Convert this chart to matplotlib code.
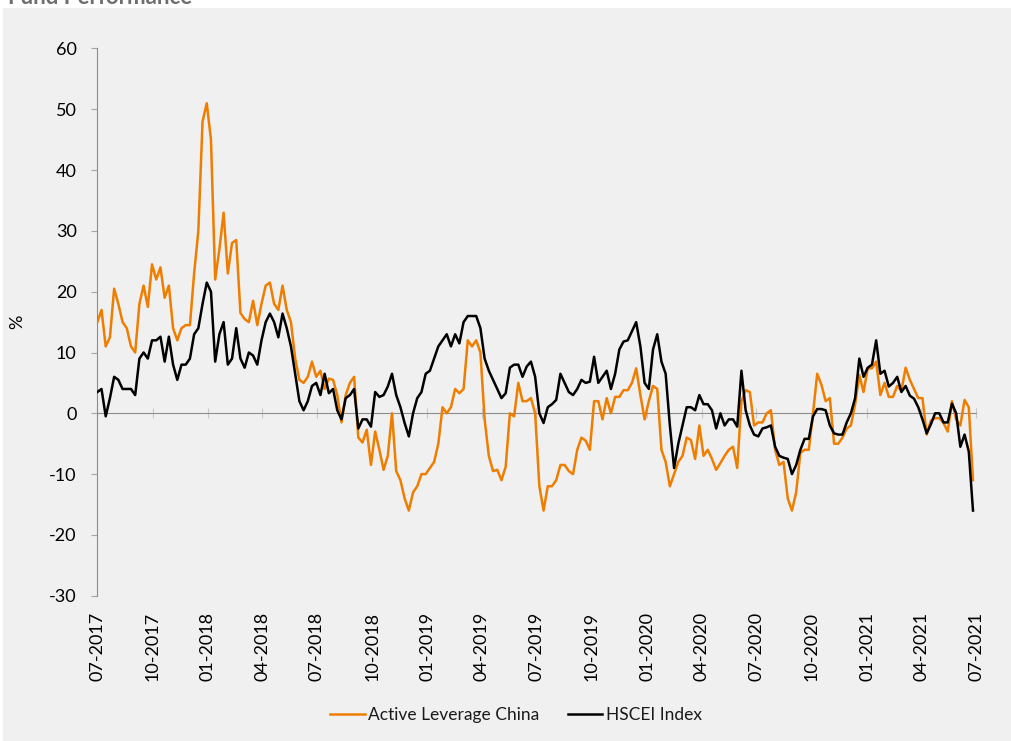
import numpy as np
import pandas as pd
import matplotlib
matplotlib.use("Agg")
import matplotlib.pyplot as plt
from matplotlib.patches import Rectangle

plt.rcParams['font.family'] = ['Lato', 'DejaVu Sans']
plt.rcParams['axes.unicode_minus'] = False

# weekly cumulative performance, %
start = "2017-07-01"

alc_2017 = [15, 17, 11, 12.5, 20.5, 18, 15, 14, 11, 10, 18, 21, 17.5, 24.5, 22, 24, 19, 21,
            14, 12, 14, 14.5, 14.5, 23, 30, 48, 51, 45, 22, 27, 33, 23, 28, 28.5, 16.5, 15.5,
            15, 18.5, 14.5, 18, 21, 21.5, 18, 17, 21, 17, 15, 9, 5.5, 5, 6, 8.5, 6]
alc_2018 = [7, 4, 5.7, 5.5, 3, -1.5, 3, 5, 6, -4, -4.8, -2.7, -8.5, -3, -6, -9.3, -7, 0,
            -9.5, -11, -14, -16, -13, -12, -10, -10, -9, -8, -5, 1, 0, 1, 4, 3.3, 4, 12, 11,
            12, 10, -1, -7, -9.5, -9.3, -11, -8.8, 0, -0.5, 5, 2, 2]
alc_2019 = [2.5, 0, -12, -16, -12, -12, -11, -8.5, -8.5, -9.5, -10, -6, -4, -4.5, -6, 2, 2,
            -1, 2.5, 0, 2.7, 2.7, 3.8, 3.8, 5, 7.4, 3, -1, 2, 4.5, 4, -6, -8, -12, -10, -8,
            -7, -4, -4.4, -7.5, -2, -7, -6, -7.5, -9.3, -8.2, -7, -6, -5.5, -9, 2, 3.8]
alc_2020 = [3.5, -2, -1.5, -1.5, 0, 0.5, -6, -8.5, -8, -14, -16, -13, -6.5, -6, -6, 0, 6.5,
            4.7, 2, 2.5, -5, -5, -4, -2.5, -2, 1.5, 6.3, 3.5, 7.4, 7.4, 8.5, 3, 5, 2.7, 2.7,
            4.5, 3.7, 7.5, 5.5, 4, 2.5, 2.5, -3.5, -1.2, -0.8, -0.8, -1.6, -3, 2, -1, -2,
            2.2, 1, -11]

hscei_2017 = [3.5, 4, -0.5, 2.5, 6, 5.5, 4, 4, 4, 3, 9, 10, 9, 12, 12, 12.6, 8.5, 12.6, 8,
              5.5, 8, 8, 9, 13, 14, 18, 21.5, 20, 8.5, 13, 15, 8, 9, 14, 9, 7.5, 10, 9.5, 8,
              12, 15, 16.4, 15, 12.5, 16.4, 14, 11, 6.5, 2, 0.5, 2, 4.5, 5]
hscei_2018 = [3, 6.5, 3.3, 4, 0.5, -1, 2.5, 3, 4, -2.5, -1, -1, -2.2, 3.5, 2.7, 3, 4.4, 6.5,
              3, 1, -1.6, -3.8, 0, 2.5, 3.5, 6.5, 7, 9, 11, 12, 13, 11, 13, 11.5, 15, 16, 16,
              16, 14, 9, 7, 5.5, 4, 2.5, 3.3, 7.5, 8, 8, 6, 7.7]
hscei_2019 = [8.5, 6, 0, -1.6, 1, 1.5, 2.2, 6.5, 5, 3.5, 3, 4, 5.5, 5, 5.2, 9.3, 5, 6, 7, 4,
              6.5, 10.5, 11.8, 12, 13.5, 15, 11, 5, 4, 10.5, 13, 8.5, 6.5, -2, -9, -5, -2, 1,
              1, 0.5, 3, 1.5, 1.5, 0.5, -2.5, 0, -2, -1, -1, -2.2, 7, 0.5]
hscei_2020 = [-2, -3.5, -3.8, -2.5, -2.3, -2, -5.5, -7, -7.3, -7.5, -10, -8.5, -6, -4.2,
              -4.2, -0.5, 0.7, 0.7, 0.5, -2, -3.3, -3.5, -3.5, -1.5, 0, 2.5, 9, 6, 7.5, 8, 12,
              6.5, 7, 4.4, 5, 6, 3.5, 4.5, 2.9, 2.4, 1, -1, -3.3, -1.8, 0, 0, -1.5, -1.5, 1.6,
              0, -5.5, -3.5, -6.3, -16]

alc = alc_2017 + alc_2018 + alc_2019 + alc_2020
hscei = hscei_2017 + hscei_2018 + hscei_2019 + hscei_2020
dates = pd.date_range(start, periods=len(alc), freq="7D")

tick_dates = pd.date_range("2017-07-01", "2021-07-01", freq="3MS")
tick_labels = [d.strftime("%m-%Y") for d in tick_dates]

ORANGE = "#ef7d00"
GRID_GREY = "#8c8c8c"

W, H = 1011, 741
fig = plt.figure(figsize=(W / 100, H / 100), dpi=100)
fig.patches.append(Rectangle((3 / W, 0), 1, (H - 8) / H, transform=fig.transFigure,
                             facecolor="#f0f0f0", edgecolor="none", zorder=-10))
# heading sits mostly above the crop, as in the source image
fig.text(8 / W, 1 - 4 / H, "Fund Performance", fontsize=16, fontweight="bold",
         color="#6e6e6e", ha="left", va="baseline")

ax = fig.add_axes([97.3 / W, 1 - 595.7 / H, (976 - 97.3) / W, (595.7 - 48.5) / H])
ax.set_facecolor("none")

ax.plot(dates, alc, color=ORANGE, lw=1.8, label="Active Leverage China", zorder=2)
ax.plot(dates, hscei, color="black", lw=1.8, label="HSCEI Index", zorder=3)

ax.set_xlim(tick_dates[0], tick_dates[-1])
ax.set_ylim(-30, 60)
ax.set_yticks(range(-30, 61, 10))

for s in ("top", "right", "bottom"):
    ax.spines[s].set_visible(False)
ax.spines["left"].set_color(GRID_GREY)
ax.tick_params(axis="y", direction="out", length=4.3, color="#a6a6a6", pad=10.5,
               labelsize=13, labelcolor="black")
ax.set_xticks(tick_dates)
ax.set_xticklabels(tick_labels, rotation=90)
ax.tick_params(axis="x", length=0, pad=11.5, labelsize=13)

# x axis line with tick marks sits at y = 0
sec = ax.secondary_xaxis(1 / 3)
sec.set_xticks(tick_dates)
sec.set_xticklabels([])
sec.tick_params(axis="x", direction="inout", length=7, color="#c8c8c8")
sec.spines["bottom"].set_color(GRID_GREY)

ax.set_ylabel("%", fontsize=13)
ax.yaxis.set_label_coords(-72 / 878.7, 0.5)

leg = ax.legend(loc="center", bbox_to_anchor=(516 / W, 1 - 715 / H),
                bbox_transform=fig.transFigure, ncol=2, frameon=False, fontsize=12.5,
                handlelength=2.0, handletextpad=0.2, columnspacing=1.6)
for t in leg.get_texts():
    t.set_color("#1a1a1a")

fig.savefig("out.png", dpi=100)
